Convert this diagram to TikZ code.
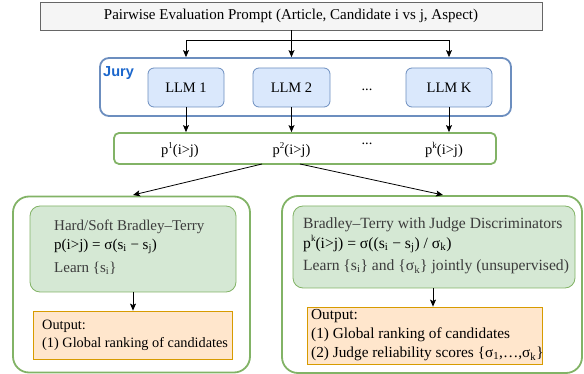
\documentclass[tikz,border=0pt]{standalone}
\usepackage{fontspec}
\setmainfont{Liberation Serif}
\newfontfamily\jurysans{Liberation Sans}
\usetikzlibrary{arrows.meta}
\definecolor{promptfill}{HTML}{F5F5F5}
\definecolor{promptdraw}{HTML}{666666}
\definecolor{bluedraw}{HTML}{6C8EBF}
\definecolor{bluefill}{HTML}{DAE8FC}
\definecolor{greendraw}{HTML}{82B366}
\definecolor{greenfill}{HTML}{D5E8D4}
\definecolor{orangedraw}{HTML}{D79B00}
\definecolor{orangefill}{HTML}{FFE6CC}
\definecolor{jurytext}{HTML}{1A66CC}
\definecolor{desctext}{HTML}{3C3C3C}
\tikzset{
  box/.style={draw, inner sep=0pt, font=\fontsize{14.5}{16}\selectfont},
  promptbox/.style={box, draw=promptdraw, fill=promptfill, font=\fontsize{15}{16}\selectfont},
  jurybox/.style={draw=bluedraw, line width=1.8pt, rounded corners=9pt},
  llmbox/.style={box, draw=bluedraw, fill=bluefill, line width=0.8pt, rounded corners=6pt},
  pbox/.style={draw=greendraw, line width=1.8pt, rounded corners=5pt},
  outerbox/.style={draw=greendraw, line width=1.8pt, rounded corners=16pt},
  methodbox/.style={draw=greendraw, fill=greenfill, line width=0.8pt, rounded corners=10pt},
  outbox/.style={draw=orangedraw, fill=orangefill, line width=0.8pt},
  txt/.style={inner sep=0pt, font=\fontsize{14.5}{16}\selectfont},
  ltxt/.style={txt, anchor=west},
  ltxtL/.style={ltxt, font=\fontsize{15}{17}\selectfont},
  ltxtLo/.style={ltxt, font=\fontsize{14.3}{17}\selectfont},
  ltxtR/.style={ltxt, font=\fontsize{15.6}{17}\selectfont},
  ltxtRo/.style={ltxt, font=\fontsize{15.3}{17}\selectfont},
  arr/.style={-{Stealth[length=7pt,width=6pt,inset=1.5pt]}, line width=0.8pt},
}
\newcommand{\smallsup}[1]{\raisebox{0.45em}{\fontsize{9}{10}\selectfont #1}}
\begin{document}
\begin{tikzpicture}[x=1pt,y=-1pt]
\useasboundingbox (0,0) rectangle (584,374);
% prompt
\node[promptbox, minimum width=502pt, minimum height=28pt] (prompt) at (291,16)
  {Pairwise Evaluation Prompt (Article, Candidate i vs j, Aspect)};
% jury
\node[jurybox, minimum width=411pt, minimum height=58pt] (jury) at (305.5,87) {};
\node[inner sep=0pt, anchor=west, text=jurytext, font=\jurysans\bfseries\fontsize{14.5}{16}\selectfont] (jurylabel) at (103,73) {Jury};
\node[llmbox, minimum width=76pt, minimum height=39pt] (llm1) at (186,87.5) {LLM 1};
\node[llmbox, minimum width=77pt, minimum height=39pt] (llm2) at (291.5,87.5) {LLM 2};
\node[llmbox, minimum width=86pt, minimum height=39pt] (llmk) at (449,87.5) {LLM K};
\node[txt] (jdots) at (367,90) {...};
% split point
\coordinate (split) at (291.5,40);
\draw[arr] (prompt.south -| llm2) -- (llm2 |- jury.north);
\draw[arr] (split) -| (llm1 |- jury.north);
\draw[arr] (split) -| (llmk |- jury.north);
% probabilities
\node[pbox, minimum width=382pt, minimum height=31pt] (pb) at (305,148.5) {};
\node[txt] (p1) at (180,150) {p\smallsup{1}(i>j)};
\node[txt] (p2) at (291.5,150) {p\smallsup{2}(i>j)};
\node[txt] (pdots) at (367,144) {...};
\node[txt] (pk) at (444,150) {p\smallsup{k}(i>j)};
\draw[arr] (llm1.south) -- (llm1 |- pb.north);
\draw[arr] (llm2.south) -- (llm2 |- pb.north);
\draw[arr] (llmk.south) -- (llmk |- pb.north);
% lower outer boxes
\node[outerbox, minimum width=237pt, minimum height=176pt] (left) at (131.5,284.5) {};
\node[outerbox, minimum width=300pt, minimum height=177pt] (right) at (432,284.5) {};
\coordinate (ls) at (262,164);
\coordinate (rs) at (300,164);
\draw[arr] (ls) -- (133,195);
\draw[arr] (rs) -- (443,195);
% left method
\node[methodbox, minimum width=206pt, minimum height=86pt] (lm) at (133,249) {};
\node[ltxtL, text=desctext] (lm1) at (54,227) {Hard/Soft Bradley–Terry};
\node[ltxtL] (lm2) at (54,246) {p(i>j) = σ(s\textsubscript{i} − s\textsubscript{j})};
\node[ltxtL, text=desctext] (lm3) at (54,268) {Learn \{s\textsubscript{i}\}};
\node[outbox, minimum width=199pt, minimum height=48pt] (lo) at (132.5,335) {};
\node[ltxtLo] (lo1) at (42,326) {Output:};
\node[ltxtLo] (lo2) at (42,344) {(1) Global ranking of candidates};
\draw[arr] (lm.south -| 133,0) -- (lo.north -| 133,0);
% right method
\node[methodbox, minimum width=282pt, minimum height=82pt] (rm) at (434,247) {};
\node[ltxtR, text=desctext] (rm1) at (303,225) {Bradley–Terry with Judge Discriminators};
\node[ltxtR] (rm2) at (303,244) {p\smallsup{k}(i>j) = σ((s\textsubscript{i} − s\textsubscript{j}) / σ\textsubscript{k})};
\node[ltxtR, text=desctext] (rm3) at (303,267) {Learn \{s\textsubscript{i}\} and \{σ\textsubscript{k}\} jointly (unsupervised)};
\node[outbox, minimum width=235pt, minimum height=57pt] (ro) at (424.5,335.5) {};
\node[ltxtRo] (ro1) at (311,316) {Output:};
\node[ltxtRo] (ro2) at (311,335) {(1) Global ranking of candidates};
\node[ltxtRo] (ro3) at (311,354) {(2) Judge reliability scores \{σ\textsubscript{1},…,σ\textsubscript{k}\}};
\draw[arr] (rm.south -| 433,0) -- (ro.north -| 433,0);
\end{tikzpicture}
\end{document}
